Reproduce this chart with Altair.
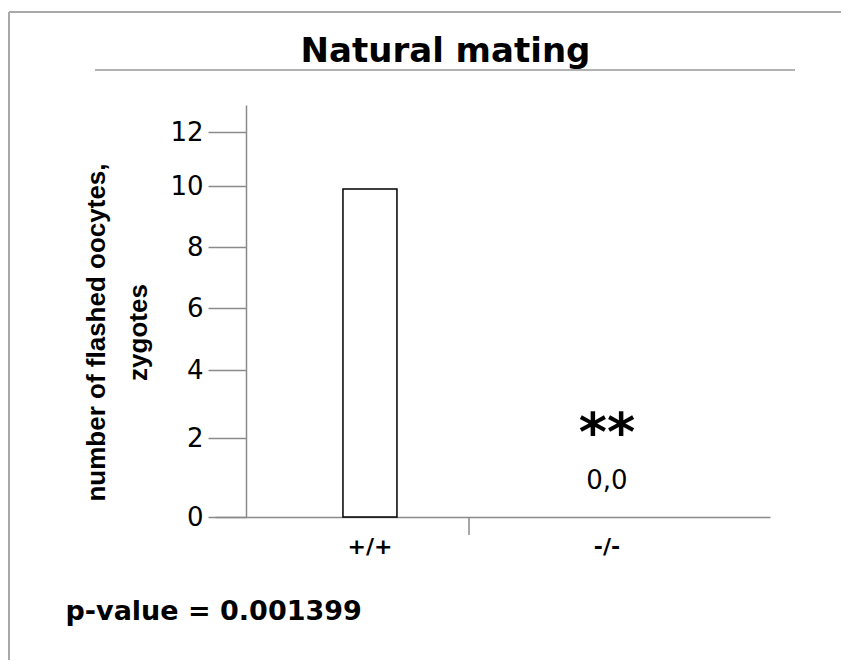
import altair as alt
import pandas as pd

# ---- data ----
categories = ["+/+", "-/-"]
values = [9.9, 0.0]
value_labels = ["", "0,0"]
significance = ["", "**"]
y_ticks = [0, 2, 4, 6, 8, 10, 12]
title_text = "Natural mating"
y_title = ["number of flashed oocytes,", "zygotes"]
p_text = "p-value = 0.001399"
separator_after = ["+/+"]

W, H = 555, 412
GRAY = "#8a8a8a"

bars = pd.DataFrame({"genotype": categories, "value": values,
                     "vlabel": value_labels, "sig": significance})
sep = pd.DataFrame({"genotype": separator_after})
one = pd.DataFrame({"a": [0]})

xscale = alt.Scale(domain=categories, paddingInner=0, paddingOuter=0.171, align=0.45)
yscale = alt.Scale(domain=[0, 2, 4, 6, 8, 10, 12, 13],
                   range=[412, 333, 265, 203, 142, 81, 27, 0],
                   nice=False, zero=False)

x_axis = alt.Axis(
    title=p_text, titleX=-150, titleY=102, titleAlign="left",
    titleBaseline="alphabetic", titleFont="DejaVu Sans", titleFontSize=27,
    titleFontWeight="bold", titleColor="black",
    labelAngle=0, labelFont="DejaVu Sans", labelFontSize=22, labelFontWeight="bold",
    labelColor="black", labelPadding=19, ticks=False,
    domainColor=GRAY, domainWidth=1.5, grid=False)

y_axis = alt.Axis(
    values=y_ticks, title=y_title, titleX=-142, titleY=227, titleAngle=-90,
    titleAlign="center", titleBaseline="alphabetic", titleLineHeight=42,
    titleFont="Liberation Sans", titleFontSize=26, titleFontWeight="bold",
    titleColor="black",
    labelFont="DejaVu Sans", labelFontSize=26, labelColor="black", labelPadding=5,
    tickSize=38, tickColor=GRAY, tickWidth=1.5,
    domainColor=GRAY, domainWidth=1.5, offset=-31, grid=False)

bar = alt.Chart(bars).transform_filter("datum.value > 0").mark_bar(
    fill="white", stroke="black", strokeWidth=1.5, width=54
).encode(
    x=alt.X("genotype:N", scale=xscale, sort=categories, axis=x_axis),
    y=alt.Y("value:Q", scale=yscale, axis=y_axis),
)

vlab = alt.Chart(bars).mark_text(
    font="DejaVu Sans", fontSize=26, color="black", baseline="alphabetic", dy=-28
).encode(x=alt.X("genotype:N", sort=categories), y=alt.datum(0), text="vlabel:N")

sig = alt.Chart(bars).mark_text(
    font="DejaVu Sans", fontSize=54, fontWeight="bold", color="black",
    baseline="alphabetic", dy=-66
).encode(x=alt.X("genotype:N", sort=categories), y=alt.datum(0), text="sig:N")

sep_rule = alt.Chart(sep).mark_rule(color=GRAY, strokeWidth=1.5).encode(
    x=alt.X("genotype:N", sort=categories, bandPosition=0.918),
    y=alt.value(H), y2=alt.value(H + 18))

underline = alt.Chart(one).mark_rule(color="#999999", strokeWidth=1.5).encode(
    x=alt.value(-120), x2=alt.value(580), y=alt.value(-35))
border_top = alt.Chart(one).mark_rule(color="#a8a8a8", strokeWidth=2).encode(
    x=alt.value(-206), x2=alt.value(630), y=alt.value(-93))
border_left = alt.Chart(one).mark_rule(color="#a8a8a8", strokeWidth=2).encode(
    x=alt.value(-206), y=alt.value(-93), y2=alt.value(560))

chart = alt.layer(
    bar, vlab, sig, sep_rule, underline, border_top, border_left
).properties(
    width=W, height=H,
    title=alt.Title(title_text, font="DejaVu Sans", fontSize=34, fontWeight="bold",
                    color="black", anchor="middle", frame="group", dx=-47,
                    baseline="alphabetic", offset=0, dy=85),
    padding={"left": 207, "top": 97, "right": 71, "bottom": 143},
    autosize="none",
    background="white",
).configure_view(stroke=None)

chart.save("out.html", embed_options={"renderer": "svg", "actions": False})
